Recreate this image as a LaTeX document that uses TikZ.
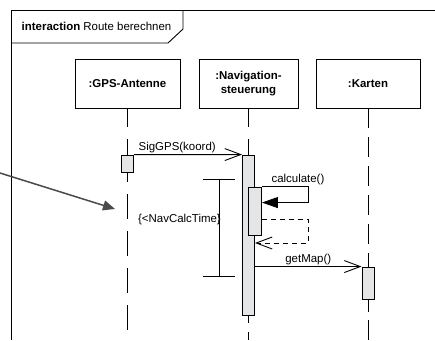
\documentclass[tikz,border=0pt]{standalone}
\usepackage{fontspec}
\setmainfont{Liberation Sans}
\usetikzlibrary{arrows.meta}
\definecolor{actfill}{HTML}{E4E5E7}
\definecolor{pointergray}{HTML}{4A4A4A}

\begin{document}
\begin{tikzpicture}[x=1bp, y=-1bp,
  msglabel/.style={font=\fontsize{11.5}{13.5}\selectfont, inner sep=1.5bp},
  lifebox/.style={draw, line width=0.9bp, minimum height=49bp, align=center,
    font=\fontsize{11.5}{13.5}\selectfont\bfseries},
  activation/.style={draw, fill=actfill, line width=0.9bp, minimum width=12bp, inner sep=0pt},
  lifeline/.style={line width=0.9bp},
  msg/.style={line width=0.9bp, -{Straight Barb[length=16bp, width=12bp]}},
  call/.style={line width=0.9bp, -{Triangle[length=16bp, width=11bp]}},
  ret/.style={line width=0.9bp, dash pattern=on 5bp off 4bp, -{Straight Barb[length=16bp, width=12bp]}}
]
  \useasboundingbox (0,0) rectangle (435,340);
  % Frame and title tab
  \draw[line width=0.9bp] (11,340) -- (11,10) -- (435,10);
  \draw[line width=0.9bp] (11,43) -- (168,43) -- (183,29) -- (183,10);
  \node[msglabel, anchor=west] (title) at (20,26) {\textbf{interaction} Route berechnen};
  % Lifeline heads
  \node[lifebox, minimum width=105bp] (gps) at (127.5,83.5) {:GPS-Antenne};
  \node[lifebox, minimum width=99bp] (nav) at (248.5,83.5) {:Navigation-\\steuerung};
  \node[lifebox, minimum width=104bp] (karten) at (368,83.5) {:Karten};
  % Activations
  \node[activation, minimum height=17bp] (actGps) at (127.5,163.5) {};
  \node[activation, minimum height=160bp] (actNav) at (248.5,235) {};
  \node[activation, minimum width=13bp, minimum height=48bp] (actCalc) at (255,211) {};
  \node[activation, minimum height=32bp] (actKarten) at (368,283) {};
  % Lifelines
  \draw[lifeline, dash pattern=on 19bp off 12bp] (gps.south) -- (actGps.north);
  \draw[lifeline, dash pattern=on 25bp off 12bp, dash phase=15bp] (actGps.south) -- (gps.south |- 0,340);
  \draw[lifeline, dash pattern=on 19bp off 12bp] (nav.south) -- (actNav.north);
  \draw[lifeline, dash pattern=on 25bp off 9bp, dash phase=17bp] (actNav.south) -- (nav.south |- 0,340);
  \draw[lifeline, dash pattern=on 20bp off 9bp] (karten.south) -- (actKarten.north);
  \draw[lifeline, dash pattern=on 20bp off 8bp, dash phase=7bp] (actKarten.south) -- (karten.south |- 0,340);
  % Messages
  \draw[msg] (actGps.north east) -- node[msglabel, above, pos=0.4] {SigGPS(koord)} (actNav.north west);
  \draw[call] (actCalc.north east) -- ++(46,0) node[msglabel, above, xshift=-10bp] {calculate()}
    |- ([yshift=-16bp]actCalc.north east);
  \draw[ret] ([yshift=-8bp]actCalc.east) -- ++(46,0) |- ([yshift=-8bp]actNav.east);
  \draw[msg] (actNav.east |- actKarten.north) -- node[msglabel, above] {getMap()} (actKarten.north west);
  % Duration constraint
  \coordinate (durTop) at (219,179);
  \coordinate (durBot) at (219,276);
  \draw[line width=0.9bp] ([xshift=-16bp]durTop) -- ([xshift=16bp]durTop);
  \draw[line width=0.9bp] ([xshift=-16bp]durBot) -- ([xshift=16bp]durBot);
  \draw[line width=0.9bp] (durTop) -- (durBot);
  \node[msglabel, anchor=east, inner sep=0pt] (durLabel) at (221,220) {\{<NavCalcTime\}};
  % Pointer from outside
  \coordinate (noteSrc) at (0,173);
  \coordinate (noteTip) at (115,209);
  \draw[pointergray, line width=1.5bp, -{Triangle[length=12bp, width=10bp]}] (noteSrc) -- (noteTip);
\end{tikzpicture}
\end{document}
